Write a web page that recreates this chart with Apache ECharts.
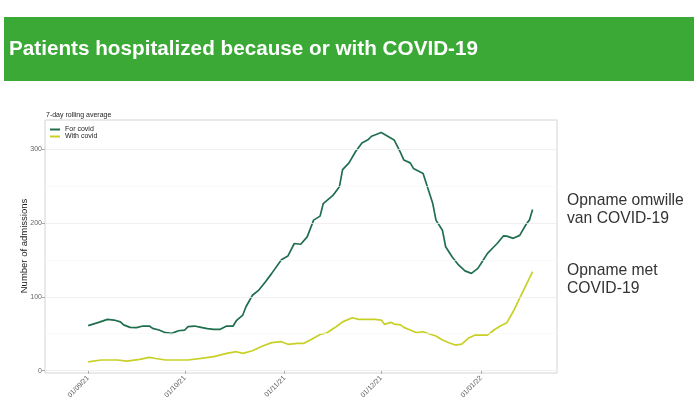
<!DOCTYPE html>
<html><head><meta charset="utf-8">
<script src="https://cdn.jsdelivr.net/npm/echarts@6/dist/echarts.min.js"></script>
<style>html,body{margin:0;padding:0;background:#fff}#c{width:694px;height:408px}</style>
</head><body><div id="c"></div>
<script>
const titleText = 'Patients hospitalized because or with COVID-19';
const subtitleText = '7-day rolling average';
const yAxisTitle = 'Number of admissions';
const seriesNames = ['For covid', 'With covid'];
const annotationFor = ['Opname omwille', 'van COVID-19'];
const annotationWith = ['Opname met', 'COVID-19'];
const xTickDates = ['2021-09-01', '2021-10-01', '2021-11-01', '2021-12-01', '2022-01-01'];
const xRange = ['2021-08-18 14:00', '2022-01-24 14:00'];
const yRange = [-3.1, 339];
const yTickValues = [0, 100, 200, 300];
const yMinorValues = [50, 150, 250];

const forDates = ['2021-09-01','2021-09-04','2021-09-07','2021-09-09','2021-09-11','2021-09-12','2021-09-14','2021-09-16','2021-09-18','2021-09-20','2021-09-21','2021-09-23','2021-09-25','2021-09-27','2021-09-29',
  '2021-10-01','2021-10-02','2021-10-04','2021-10-06','2021-10-08','2021-10-10','2021-10-12','2021-10-14','2021-10-16','2021-10-17','2021-10-19','2021-10-20','2021-10-22','2021-10-24','2021-10-26','2021-10-28','2021-10-31',
  '2021-11-02','2021-11-04','2021-11-06','2021-11-08','2021-11-10','2021-11-12','2021-11-13','2021-11-16','2021-11-18','2021-11-19','2021-11-21','2021-11-23','2021-11-25','2021-11-27','2021-11-28',
  '2021-12-01','2021-12-03','2021-12-05','2021-12-07','2021-12-08','2021-12-10','2021-12-11','2021-12-14','2021-12-15','2021-12-17','2021-12-18','2021-12-20','2021-12-21','2021-12-23','2021-12-25','2021-12-27','2021-12-29','2021-12-31',
  '2022-01-01','2022-01-03','2022-01-05','2022-01-06','2022-01-08','2022-01-09','2022-01-11','2022-01-13','2022-01-15','2022-01-16','2022-01-17'];
const forValues = [61,65,69.4,68.5,66,62,58.6,58.2,60.4,60.4,57.3,55,51.4,50.5,54,
  55,59.5,60.4,58.7,56.8,55.9,56,60.4,60.4,67.6,75.3,86.5,102,109,120,131.6,150,
  155,172,171,181,203.6,209,226,237,248.6,272,281,296,308,312.7,317,
  322,317,312,295,285,281,273.5,266.7,253,226,203.6,190,167.6,154,143,135,131.6,138.4,
  145,158.6,167.6,172,182.4,182,179,183,198,203.6,218];

const withDates = ['2021-09-01','2021-09-05','2021-09-10','2021-09-13','2021-09-17','2021-09-20','2021-09-22','2021-09-25',
  '2021-10-02','2021-10-06','2021-10-10','2021-10-14','2021-10-17','2021-10-19','2021-10-22','2021-10-25','2021-10-28','2021-10-31',
  '2021-11-02','2021-11-05','2021-11-07','2021-11-09','2021-11-12','2021-11-14','2021-11-17','2021-11-19','2021-11-22','2021-11-24','2021-11-27','2021-11-29',
  '2021-12-01','2021-12-02','2021-12-04','2021-12-05','2021-12-07','2021-12-08','2021-12-10','2021-12-12','2021-12-14','2021-12-16','2021-12-18','2021-12-20','2021-12-22','2021-12-24','2021-12-26','2021-12-28','2021-12-30',
  '2022-01-01','2022-01-03','2022-01-05','2022-01-07','2022-01-09','2022-01-11','2022-01-13','2022-01-15','2022-01-17'];
const withValues = [12,14.5,14.5,13,15.4,18,16.5,14.5,
  14.5,16.7,19,23.5,25.7,23.5,27,33,38,39.2,
  35.7,37,37,41.5,49,51,59.5,66,71.6,69.5,69.5,69.5,
  68.5,62.7,65.4,63,62,58.6,55,51.4,52.7,49.6,47,41.5,37.8,34.7,36,43.8,48,
  48,48,55,60.4,65,80,98,116,134];

function ts(s) {
  const [d, t] = s.split(' ');
  const [y, m, dd] = d.split('-').map(Number);
  let h = 0;
  if (t) h = Number(t.split(':')[0]);
  return new Date(y, m - 1, dd, h).getTime();
}
function pad(n) { return (n < 10 ? '0' : '') + n; }

const chart = echarts.init(document.getElementById('c'), null, { renderer: 'canvas' });
const FONT = 'Liberation Sans, Arial, sans-serif';
const gridLines = yTickValues.map(v => ({ yAxis: v, lineStyle: { color: '#ececec', width: 0.8, type: 'solid' } }))
  .concat(yMinorValues.map(v => ({ yAxis: v, lineStyle: { color: '#f6f6f6', width: 0.6, type: 'solid' } })));

chart.setOption({
  backgroundColor: '#fff',
  animation: false,
  textStyle: { fontFamily: FONT },
  grid: { left: 45, top: 120, right: 137, bottom: 35, show: true, borderColor: '#d4d4d4', borderWidth: 1, containLabel: false },
  legend: {
    data: seriesNames, left: 50, top: 126, orient: 'vertical', icon: 'rect',
    itemWidth: 10, itemHeight: 2, itemGap: 0, padding: 0,
    textStyle: { fontSize: 7, color: '#222', lineHeight: 6, fontFamily: FONT }
  },
  xAxis: {
    type: 'value', min: ts(xRange[0]), max: ts(xRange[1]),
    axisLine: { show: false },
    axisTick: { show: true, length: 3, lineStyle: { color: '#aaa' }, customValues: xTickDates.map(ts) },
    axisLabel: {
      customValues: xTickDates.map(ts), rotate: 45, fontSize: 7, color: '#555', margin: 4, fontFamily: FONT,
      formatter: v => { const d = new Date(v); return pad(d.getDate()) + '/' + pad(d.getMonth() + 1) + '/' + String(d.getFullYear()).slice(2); }
    },
    splitLine: { show: false }
  },
  yAxis: {
    type: 'value', min: yRange[0], max: yRange[1],
    axisLine: { show: false },
    axisTick: { show: true, length: 3, lineStyle: { color: '#aaa' }, customValues: yTickValues },
    axisLabel: { customValues: yTickValues, fontSize: 7, color: '#666', margin: 3, fontFamily: FONT },
    splitLine: { show: false }
  },
  series: [
    {
      name: '_grid', type: 'line', data: [], z: 1, silent: true,
      markLine: { silent: true, symbol: ['none', 'none'], label: { show: false }, data: gridLines, animation: false }
    },
    {
      name: seriesNames[0], type: 'line', showSymbol: false, symbol: 'none', z: 3,
      itemStyle: { color: '#1f6e4e' }, lineStyle: { color: '#1f6e4e', width: 1.7 },
      data: forDates.map((d, i) => [ts(d), forValues[i]])
    },
    {
      name: seriesNames[1], type: 'line', showSymbol: false, symbol: 'none', z: 3,
      itemStyle: { color: '#c8d026' }, lineStyle: { color: '#c8d026', width: 1.7 },
      data: withDates.map((d, i) => [ts(d), withValues[i]])
    }
  ],
  graphic: [
    { type: 'rect', shape: { x: 4, y: 17, width: 690, height: 64 }, style: { fill: '#3aa935' }, z: 0 },
    { type: 'text', x: 9, y: 49, style: { text: titleText, fill: '#fff', font: 'bold 20.7px ' + FONT, textVerticalAlign: 'middle' }, z: 1 },
    { type: 'text', x: 46, y: 115, style: { text: subtitleText, fill: '#222', font: '7px ' + FONT, textVerticalAlign: 'middle' } },
    { type: 'text', x: 24, y: 246, rotation: Math.PI / 2, style: { text: yAxisTitle, fill: '#1a1a1a', font: '9.5px ' + FONT, textAlign: 'center', textVerticalAlign: 'middle' } },
    { type: 'text', x: 567, y: 192, style: { text: annotationFor.join('\n'), fill: '#333', font: '15.7px ' + FONT, lineHeight: 17.5 } },
    { type: 'text', x: 567, y: 262, style: { text: annotationWith.join('\n'), fill: '#333', font: '15.7px ' + FONT, lineHeight: 18 } }
  ]
});
</script>
</body></html>
